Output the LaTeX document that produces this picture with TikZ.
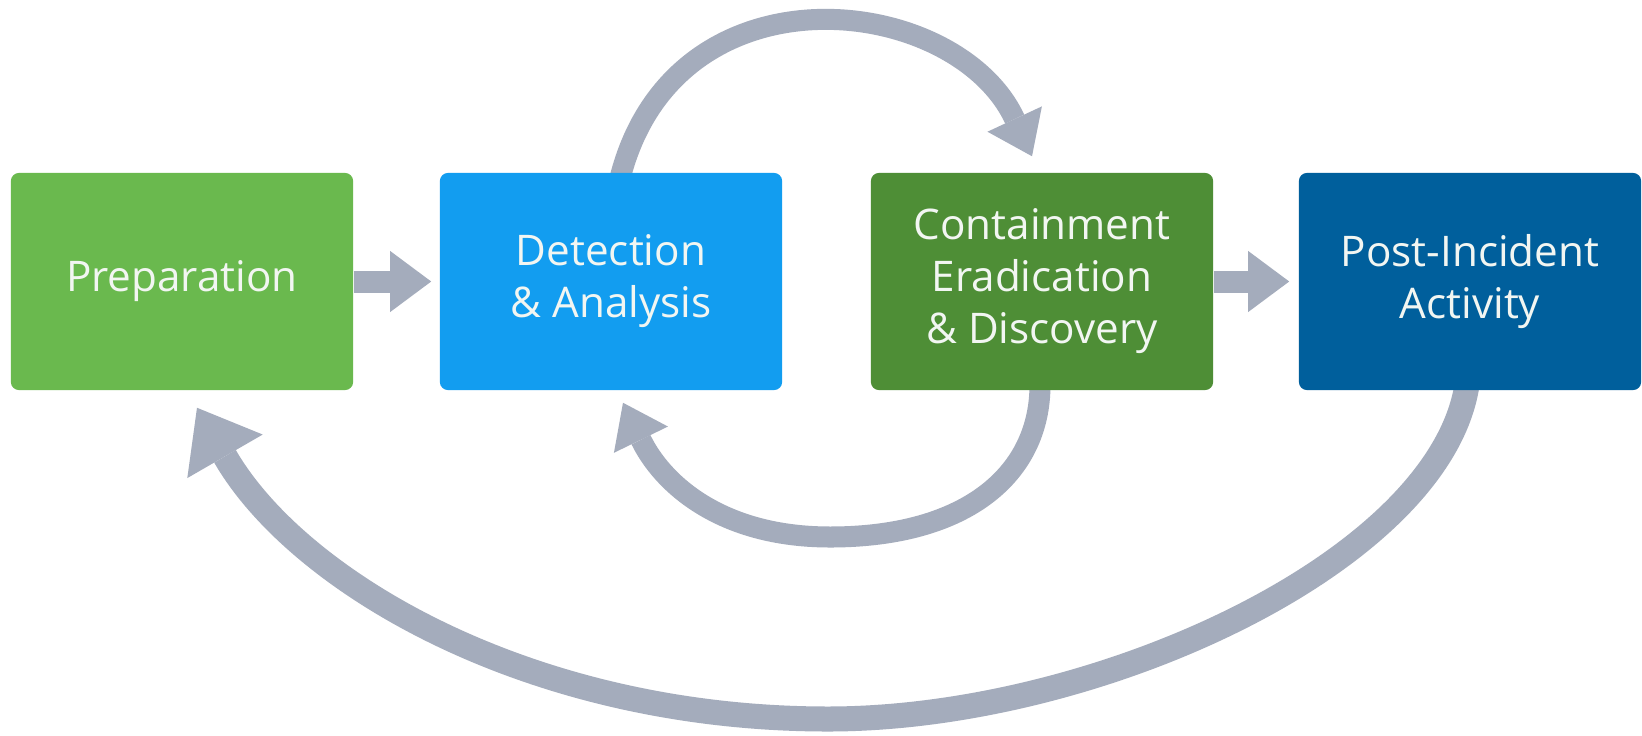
\documentclass[tikz,border=0pt]{standalone}
\usepackage{fontspec}
\newfontfamily\boxfont{Open Sans}
\usetikzlibrary{arrows.meta,calc,backgrounds}
\definecolor{prepgreen}{RGB}{106,185,78}
\definecolor{detblue}{RGB}{18,157,240}
\definecolor{contgreen}{RGB}{78,142,54}
\definecolor{postblue}{RGB}{0,95,156}
\definecolor{flowgray}{RGB}{164,172,188}
\definecolor{labelwhite}{RGB}{242,246,242}
\begin{document}
\begin{tikzpicture}[x=0.01cm,y=0.01cm,
  phase/.style={rounded corners=0.08cm, minimum width=3.42cm, minimum height=2.17cm,
    inner sep=0pt, align=center, text=labelwhite,
    font=\boxfont\fontsize{12}{14.8}\selectfont},
  flow/.style={draw=flowgray, line width=0.22cm,
    -{Triangle[length=0.41cm,width=0.61cm,line width=0pt]}},
  loopflow/.style={draw=flowgray, line width=0.21cm,
    -{Triangle[length=0.41cm,width=0.60cm,line width=0pt]}},
  bigloop/.style={draw=flowgray, line width=0.25cm,
    -{Triangle[length=0.56cm,width=0.87cm,line width=0pt]}}]
\useasboundingbox (0,0) rectangle (1642,735);

% the four phases
\node[phase, fill=prepgreen] (prep) at (182,453.5) {Preparation};
\node[phase, fill=detblue]   (det)  at (611,453.5) {Detection\\\& Analysis};
\node[phase, fill=contgreen] (cont) at (1042,453.5) {Containment\\Eradication\\\& Discovery};
\node[phase, fill=postblue]  (post) at (1470,453.5) {Post-Incident\\Activity};

\begin{scope}[on background layer]
  \fill[white] (0,0) rectangle (1642,735);
  % straight hand-offs
  \draw[flow] (prep.east) -- ($(det.west)+(-8,0)$);
  \draw[flow] (cont.east) -- ($(post.west)+(-9,0)$);
  % loop over the top: detection -> containment
  \draw[loopflow] ($(det.north)+(9,-6)$) .. controls (675,775) and (956,742)
    .. ($(cont.north)+(-10,16)$);
  % loop underneath: containment -> detection
  \draw[loopflow] ($(cont.south)+(-2,6)$) .. controls (1040,262) and (968,198)
    .. (830,198) .. controls (720,198) and (662,252) .. ($(det.south)+(12,-12)$);
  % long return: post-incident -> preparation
  \draw[bigloop] ($(post.south)+(-3,6)$) .. controls (1440,175) and (1100,16)
    .. (828,16) .. controls (528,16) and (297,154) .. ($(prep.south)+(15,-17)$);
\end{scope}
\end{tikzpicture}
\end{document}
